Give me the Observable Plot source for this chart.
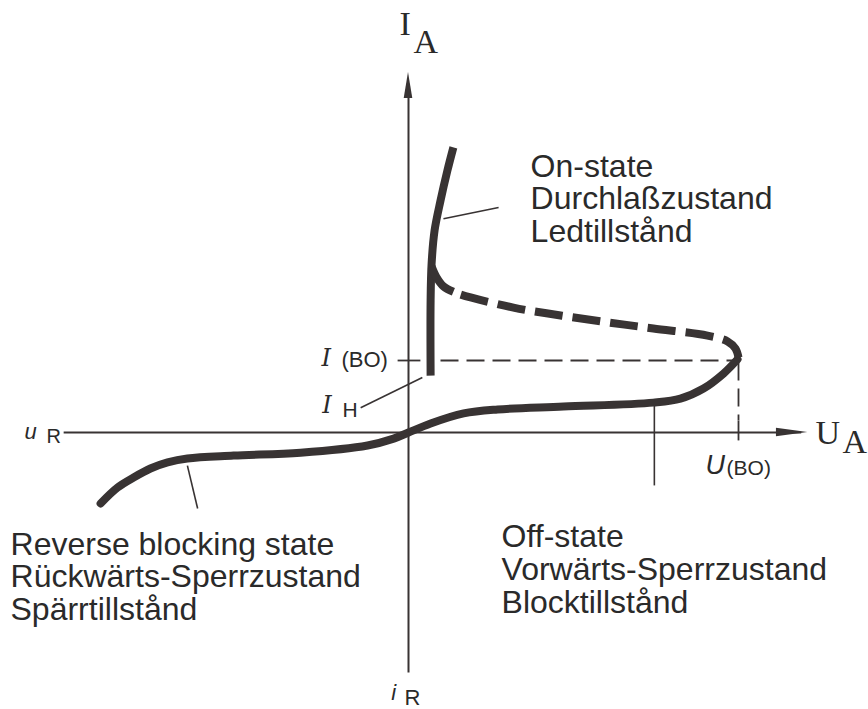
<!DOCTYPE html>
<html>
<head>
<meta charset="utf-8">
<script src="https://cdn.jsdelivr.net/npm/d3@7"></script>
<script src="https://cdn.jsdelivr.net/npm/@observablehq/plot@0.6"></script>
<style>
  html, body { margin: 0; padding: 0; background: #ffffff; }
  #chart svg { display: block; }
</style>
</head>
<body>
<div id="chart"></div>
<script>
// Thyristor characteristic (arbitrary units: U_(BO) = 10, I_(BO) = 2)
// Blocking characteristic: reverse branch + forward off-state branch up to break-over
const blockU = [-9.33, -8.82, -8.33, -7.82, -7.30, -6.70, -5.30, -3.27, -1.24, -0.45, 0, 0.67, 1.67, 2.70, 4.70, 7.42, 8.24, 8.94, 9.55, 9.97];
const blockI = [-1.97, -1.53, -1.25, -1.00, -0.83, -0.72, -0.64, -0.56, -0.36, -0.17, 0, 0.25, 0.53, 0.64, 0.72, 0.83, 0.94, 1.22, 1.64, 2.03];
// On-state branch (from holding current I_H upwards)
const onU = [0.67, 0.67, 0.70, 0.79, 0.97, 1.18, 1.36];
const onI = [1.58, 3.67, 4.69, 5.61, 6.44, 7.28, 7.92];
// Switching transition (solid start, then dashed back to break-over point)
const jointU = [0.70, 0.85, 1.06, 1.36];
const jointI = [4.61, 4.31, 4.06, 3.91];
const switchU = [1.36, 1.58, 3.18, 4.61, 6.03, 7.42, 9.06, 9.67, 9.91, 10.0];
const switchI = [3.91, 3.83, 3.47, 3.25, 3.06, 2.89, 2.69, 2.53, 2.33, 2.08];
// Characteristic values
const U_BO = 10;
const I_BO = 2;
const I_H = 1.58;
// Text
const onStateLines = ["On-state", "Durchlaßzustand", "Ledtillstånd"];
const offStateLines = ["Off-state", "Vorwärts-Sperrzustand", "Blocktillstånd"];
const reverseLines = ["Reverse blocking state", "Rückwärts-Sperrzustand", "Spärrtillstånd"];

const zip = (X, Y) => X.map((x, i) => ({x, y: Y[i]}));
const block = zip(blockU, blockI);
const onState = zip(onU, onI);
const joint = zip(jointU, jointI);
const switching = zip(switchU, switchI);

const INK = "#383333";
const TXT = "#2a2a2a";
const SANS = "'Liberation Sans', Arial, Helvetica, sans-serif";
const SERIF = "'Liberation Serif', 'Times New Roman', serif";
const ISERIF = "'DejaVu Serif', 'Liberation Serif', serif";

// pixel -> unit factors: 33 px per U unit, 36 px per I unit
const W = 868, H = 709;
const xDomain = [-408 / 33, 460 / 33];
const yDomain = [-277 / 36, 432 / 36];

function label(text, x, y, o = {}) {
  return Plot.text([text], {
    x: () => x, y: () => y, text: d => d,
    textAnchor: "start", lineAnchor: "bottom",
    fontFamily: o.fontFamily || SANS, fontSize: o.fontSize || 22,
    fontStyle: o.fontStyle || "normal", fill: TXT,
    lineHeight: o.lineHeight || 1
  });
}
function seg(x1, y1, x2, y2, o = {}) {
  return Plot.link([0], {
    x1: () => x1, y1: () => y1, x2: () => x2, y2: () => y2,
    stroke: INK, strokeWidth: o.w || 1.6, strokeDasharray: o.dash, strokeDashoffset: o.offset
  });
}

const chart = Plot.plot({
  width: W, height: H,
  margin: 0,
  x: {domain: xDomain, axis: null},
  y: {domain: yDomain, axis: null},
  marks: [
    // axes
    seg(-10.45, 0, 11.9, 0, {w: 2}),
    Plot.areaY([{x: 11.15, a: -0.12, b: 0.12}, {x: 12.1, a: 0, b: 0}], {x: "x", y1: "a", y2: "b", fill: INK}),
    seg(0, -6.67, 0, 9.4, {w: 2}),
    Plot.areaX([{y: 9.28, a: -0.13, b: 0.13}, {y: 10.0, a: 0, b: 0}], {y: "y", x1: "a", x2: "b", fill: INK}),
    // I_(BO) tick + dashed level line
    seg(-0.33, I_BO, 0.36, I_BO, {w: 1.8}),
    seg(0.97, I_BO, U_BO, I_BO, {w: 1.8, dash: "18,8"}),
    // U_(BO) dashed drop + tick
    seg(U_BO, I_BO, U_BO, 0.33, {w: 1.8, dash: "18,8", offset: -2}),
    seg(U_BO, 0.33, U_BO, -0.22, {w: 1.8}),
    // leader lines
    seg(-6.70, -0.92, -6.39, -2.11),
    seg(7.45, 0.83, 7.45, -1.47),
    seg(1.06, 5.94, 2.73, 6.25),
    seg(-1.45, 0.69, 0.42, 1.53),
    // curves
    Plot.line(block, {x: "x", y: "y", curve: "catmull-rom", stroke: INK, strokeWidth: 8, strokeLinecap: "round"}),
    Plot.line(onState, {x: "x", y: "y", curve: "catmull-rom", stroke: INK, strokeWidth: 8, strokeLinecap: "butt"}),
    Plot.line(joint, {x: "x", y: "y", curve: "catmull-rom", stroke: INK, strokeWidth: 8, strokeLinecap: "butt"}),
    Plot.line(switching, {x: "x", y: "y", curve: "catmull-rom", stroke: INK, strokeWidth: 8, strokeLinecap: "butt", strokeDasharray: "28,10", strokeDashoffset: -8}),
    // axis labels
    label("I", -0.27, 11.03, {fontFamily: SERIF, fontSize: 34}),
    label("A", 0.15, 10.53, {fontFamily: SERIF, fontSize: 34}),
    label("U", 12.33, -0.33, {fontFamily: SERIF, fontSize: 34}),
    label("A", 13.15, -0.58, {fontFamily: SERIF, fontSize: 34}),
    label("u", -11.64, -0.17, {fontStyle: "italic", fontSize: 22}),
    label("R", -10.97, -0.28, {fontSize: 20}),
    label("i", -0.52, -7.44, {fontStyle: "italic", fontSize: 22}),
    label("R", -0.12, -7.58, {fontSize: 22}),
    // characteristic labels
    label("I", -2.64, 1.86, {fontFamily: ISERIF, fontStyle: "italic", fontSize: 24}),
    label("(BO)", -2.03, 1.81, {fontSize: 22}),
    label("I", -2.61, 0.53, {fontFamily: ISERIF, fontStyle: "italic", fontSize: 24}),
    label("H", -2.0, 0.42, {fontSize: 21}),
    label("U", 9.0, -1.14, {fontStyle: "italic", fontSize: 27}),
    label("(BO)", 9.64, -1.17, {fontSize: 21}),
    // state descriptions
    label(onStateLines.join("\n"), 3.70, 5.28, {fontSize: 32, lineHeight: 1.03}),
    label(offStateLines.join("\n"), 2.82, -5.0, {fontSize: 32, lineHeight: 1.03}),
    label(reverseLines.join("\n"), -12.06, -5.22, {fontSize: 32, lineHeight: 1.03})
  ]
});
document.getElementById("chart").append(chart);
</script>
</body>
</html>
